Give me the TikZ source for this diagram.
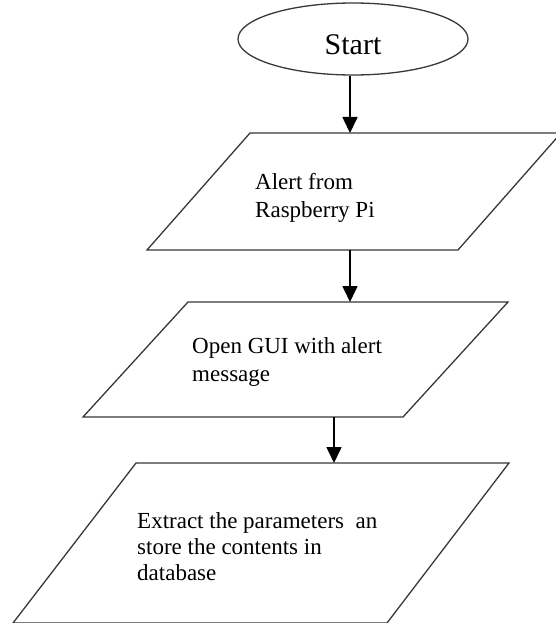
\documentclass[tikz,border=0pt]{standalone}
\usepackage{fontspec}
\setmainfont{Liberation Serif}
\usetikzlibrary{arrows.meta,shapes.geometric}
\begin{document}
\begin{tikzpicture}[x=1pt,y=-1pt,
  boxline/.style={draw=black!78,line width=1.3pt,line join=miter},
  arr/.style={draw=black,line width=1.6pt,-{Triangle[width=15pt,length=16pt]}},
  steptext/.style={anchor=north west,inner sep=0pt,align=left,font=\fontsize{23}{28}\selectfont,text=black}]
\useasboundingbox (0,0) rectangle (556,623);
% start ellipse
\node[boxline,ellipse,minimum width=230pt,minimum height=72pt,inner sep=0pt,
      text height=32pt,text depth=0pt,font=\fontsize{30}{34}\selectfont] (start) at (353,39) {Start};
% parallelogram 1
\coordinate (p1tl) at (250,133);
\coordinate (p1tr) at (561,133);
\coordinate (p1br) at (458,250);
\coordinate (p1bl) at (147,250);
\draw[boxline] (p1tl) -- (p1tr) -- (p1br) -- (p1bl) -- cycle;
\node[steptext] (alert) at (255,173) {Alert from\\Raspberry Pi};
% parallelogram 2
\coordinate (p2tl) at (188,302);
\coordinate (p2tr) at (508,302);
\coordinate (p2br) at (403,417);
\coordinate (p2bl) at (83,417);
\draw[boxline] (p2tl) -- (p2tr) -- (p2br) -- (p2bl) -- cycle;
\node[steptext] (gui) at (192,337) {Open GUI with alert\\message};
% parallelogram 3
\coordinate (p3tl) at (136,463);
\coordinate (p3tr) at (509,463);
\coordinate (p3br) at (387,623);
\coordinate (p3bl) at (13,623);
\draw[boxline] (p3tl) -- (p3tr) -- (p3br) -- (p3bl) -- cycle;
\node[steptext,font=\fontsize{23}{26}\selectfont] (extract) at (137,512) {Extract the parameters\ \ an\\store the contents in\\database};
% connectors
\coordinate (a1in) at (350,133);
\coordinate (a2out) at (350,250);
\coordinate (a2in) at (350,302);
\coordinate (a3out) at (334,417);
\coordinate (a3in) at (334,463);
\draw[arr] (start.south -| a1in) -- (a1in);
\draw[arr] (a2out) -- (a2in);
\draw[arr] (a3out) -- (a3in);
\end{tikzpicture}
\end{document}
